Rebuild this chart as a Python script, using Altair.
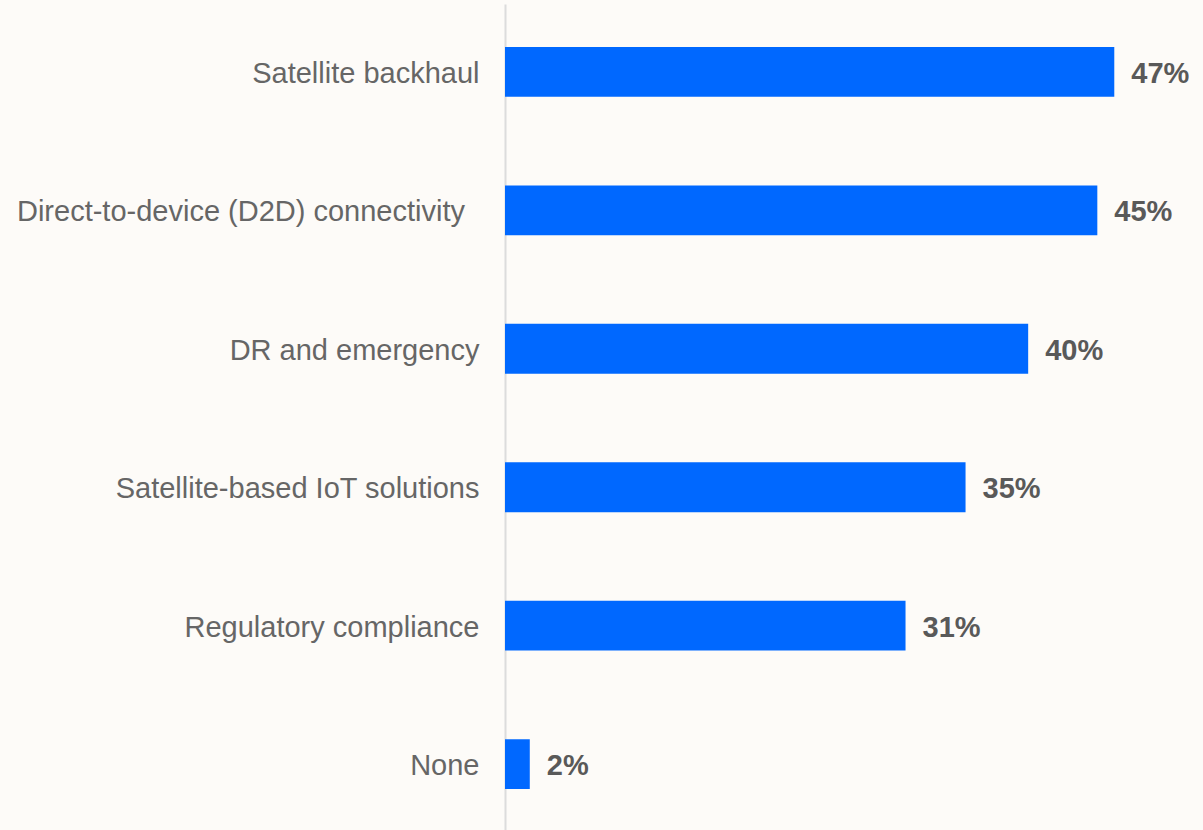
import altair as alt
import pandas as pd

categories = [
    "Satellite backhaul",
    "Direct-to-device (D2D) connectivity\u2002\u200b",
    "DR and emergency",
    "Satellite-based IoT solutions",
    "Regulatory compliance",
    "None",
]
values = [46.7, 45.4, 40.1, 35.3, 30.7, 1.9]
labels = ["47%", "45%", "40%", "35%", "31%", "2%"]

df = pd.DataFrame({"cat": categories, "val": values, "lab": labels})

y = alt.Y(
    "cat:N",
    sort=categories,
    title=None,
    scale=alt.Scale(paddingInner=0.64, paddingOuter=0.31),
    axis=alt.Axis(
        ticks=False,
        labelPadding=26,
        labelOffset=2,
        labelFont="Liberation Sans",
        labelFontSize=29,
        labelColor="#666666",
        domainColor="#dcdcdc",
        domainWidth=2,
        labelLimit=700,
        grid=False,
    ),
)
x = alt.X(
    "val:Q",
    scale=alt.Scale(domain=[0, 53.5], nice=False),
    axis=None,
)

bars = alt.Chart(df).mark_bar(color="#0068ff").encode(x=x, y=y)
text = alt.Chart(df).mark_text(
    align="left",
    baseline="middle",
    dx=17,
    dy=2,
    font="Liberation Sans",
    fontSize=29,
    fontWeight="bold",
    color="#595959",
).encode(x=x, y=alt.Y("cat:N", sort=categories), text="lab:N")

chart = (
    alt.layer(bars, text)
    .properties(
        width=698,
        height=828,
        background="#fdfbf8",
        padding={"left": 505, "top": 4, "right": 0, "bottom": 0},
        autosize=alt.AutoSizeParams(type="none"),
    )
    .configure_view(stroke=None)
)

chart.save("out.html", embed_options={"renderer": "svg", "actions": False})
